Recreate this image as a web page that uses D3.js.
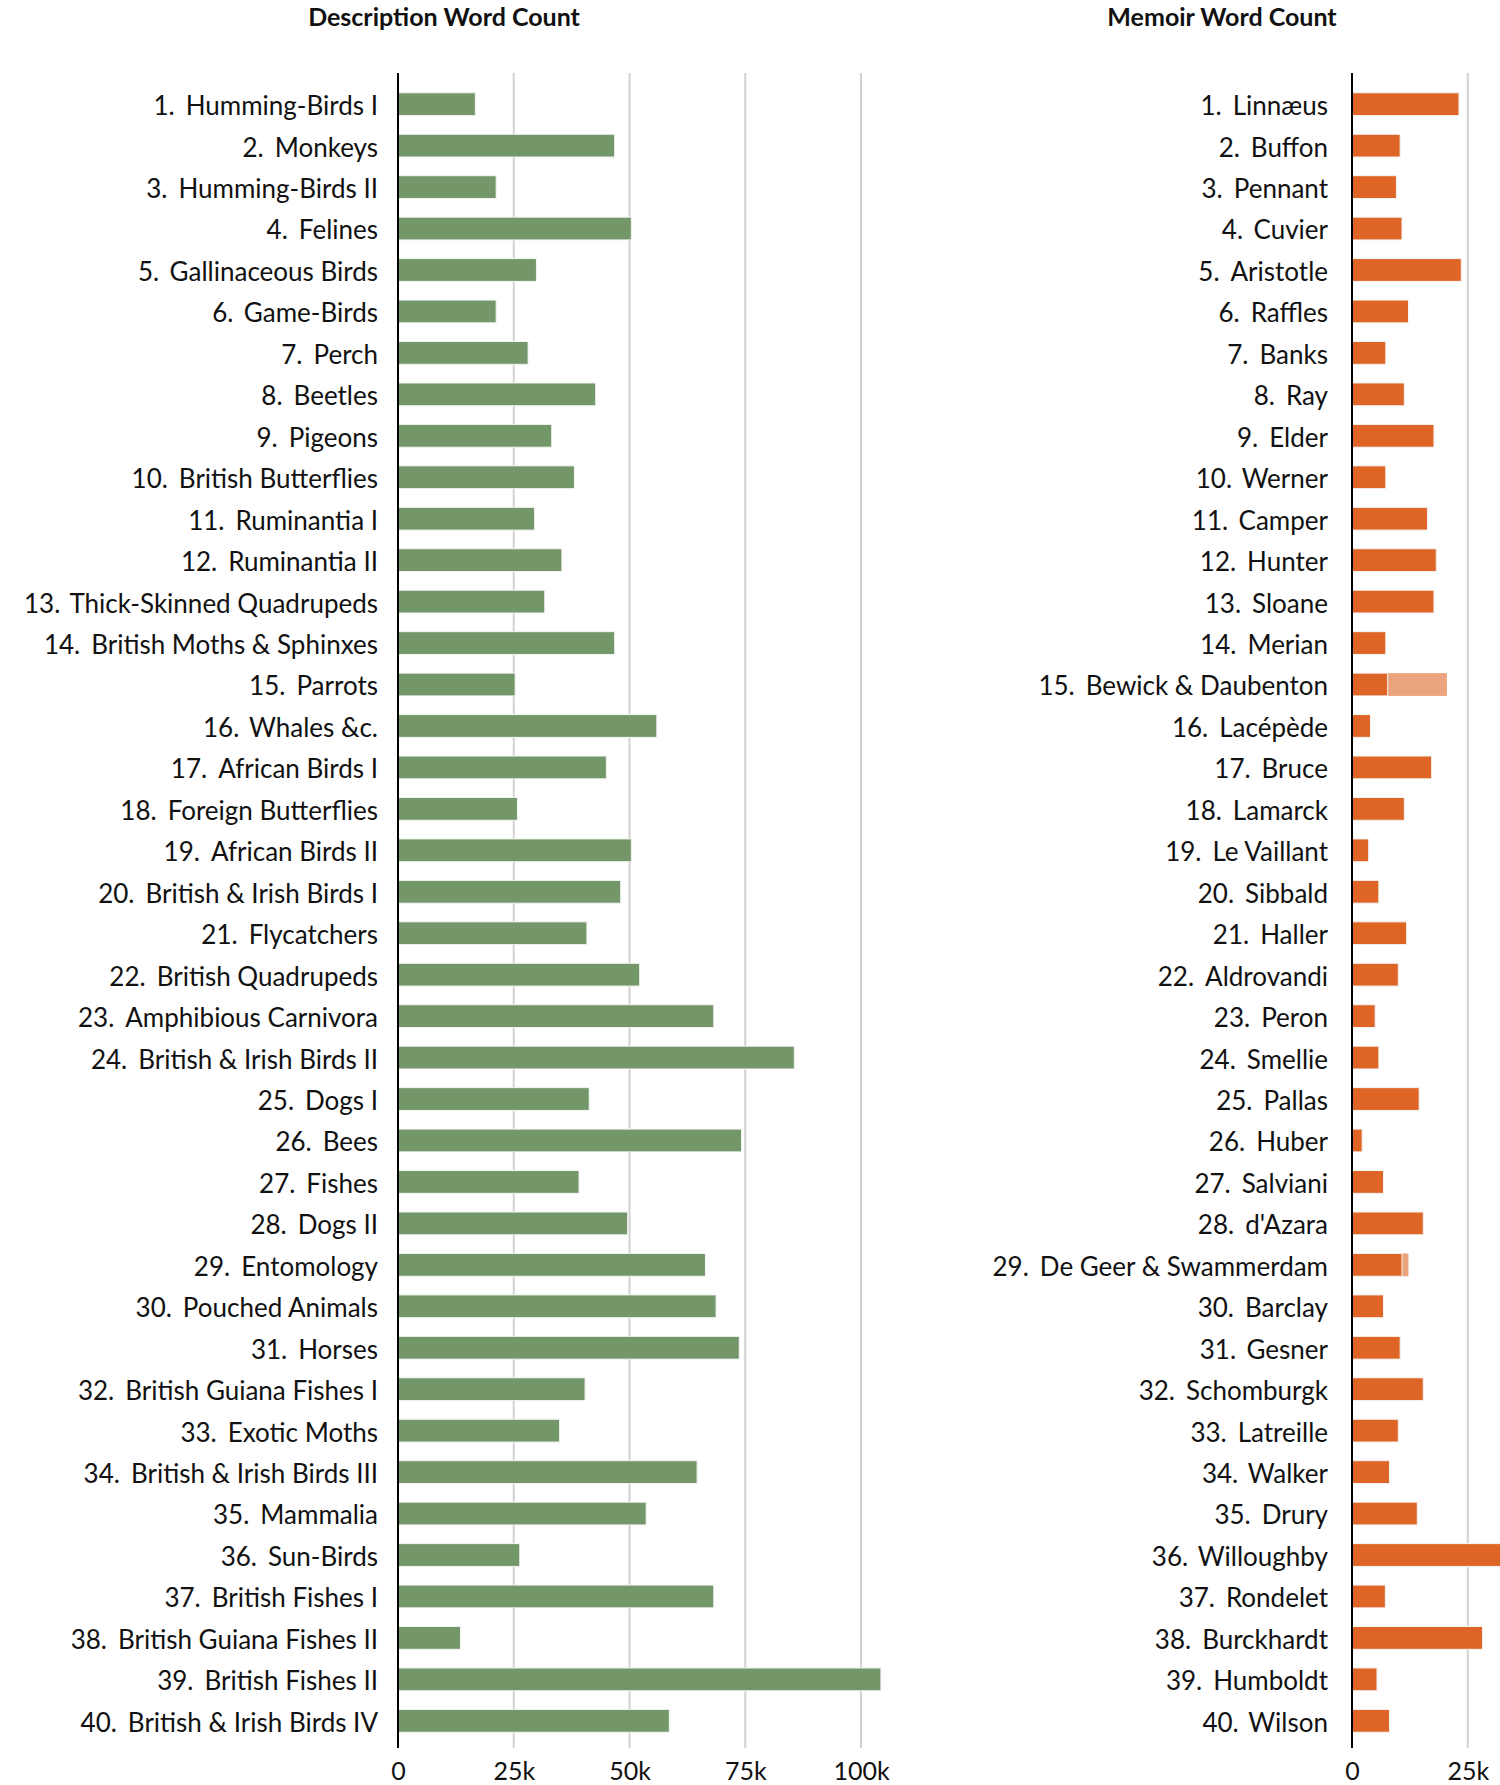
<!DOCTYPE html>
<html>
<head>
<meta charset="utf-8">
<script src="https://cdn.jsdelivr.net/npm/d3@7"></script>
<style>
  html, body { margin: 0; padding: 0; background: #fff; }
  svg { display: block; }
  text { font-family: Lato, "Open Sans", sans-serif; fill: #111; }
</style>
</head>
<body>
<svg id="chart" width="1500" height="1785"></svg>
<script>
const descNames = ["Humming-Birds I","Monkeys","Humming-Birds II","Felines","Gallinaceous Birds","Game-Birds","Perch","Beetles","Pigeons","British Butterflies","Ruminantia I","Ruminantia II","Thick-Skinned Quadrupeds","British Moths & Sphinxes","Parrots","Whales &c.","African Birds I","Foreign Butterflies","African Birds II","British & Irish Birds I","Flycatchers","British Quadrupeds","Amphibious Carnivora","British & Irish Birds II","Dogs I","Bees","Fishes","Dogs II","Entomology","Pouched Animals","Horses","British Guiana Fishes I","Exotic Moths","British & Irish Birds III","Mammalia","Sun-Birds","British Fishes I","British Guiana Fishes II","British Fishes II","British & Irish Birds IV"];
const descWords = [16700,46800,21200,50400,29900,21200,28100,42700,33200,38100,29500,35400,31700,46800,25300,55900,45000,25800,50400,48100,40800,52200,68200,85600,41300,74200,39100,49600,66400,68700,73700,40400,34900,64600,53600,26300,68200,13500,104300,58600];

const memoirNames = ["Linnæus","Buffon","Pennant","Cuvier","Aristotle","Raffles","Banks","Ray","Elder","Werner","Camper","Hunter","Sloane","Merian","Bewick & Daubenton","Lacépède","Bruce","Lamarck","Le Vaillant","Sibbald","Haller","Aldrovandi","Peron","Smellie","Pallas","Huber","Salviani","d'Azara","De Geer & Swammerdam","Barclay","Gesner","Schomburgk","Latreille","Walker","Drury","Willoughby","Rondelet","Burckhardt","Humboldt","Wilson"];
const memoirWords = [23100,10400,9600,10800,23600,12200,7300,11300,17700,7300,16300,18200,17700,7300,7700,4000,17200,11300,3600,5800,11800,10000,5000,5800,14500,2200,6800,15400,10800,6800,10400,15400,10000,8100,14100,35000,7200,28200,5400,8100];
// second (co-subject) memoir, stacked after the first
const memoirExtra = [0,0,0,0,0,0,0,0,0,0,0,0,0,0,12800,0,0,0,0,0,0,0,0,0,0,0,0,0,1400,0,0,0,0,0,0,0,0,0,0,0];

const descTicks = [0,25000,50000,75000,100000];
const memoirTicks = [0,25000];
const titles = ["Description Word Count","Memoir Word Count"];

const svg = d3.select("#chart");
const plotTop = 73, plotBottom = 1748;
const pxPerK = 4.63;
const fmt = d => d === 0 ? "0" : (d/1000) + "k";

function panel(cfg) {
  const g = svg.append("g");
  const idx = d3.range(cfg.names.length);
  const y = d3.scaleBand().domain(idx).range([plotTop + 3, plotBottom + 1]).paddingInner(0.45).paddingOuter(0.405);
  const x = d3.scaleLinear().domain([0, 100000]).range([cfg.x0, cfg.x0 + pxPerK * 100]);

  g.append("g").selectAll("line").data(cfg.ticks.filter(t => t > 0)).join("line")
    .attr("x1", d => x(d)).attr("x2", d => x(d))
    .attr("y1", plotTop).attr("y2", plotBottom)
    .attr("stroke", "#d2d2d2").attr("stroke-width", 2);

  g.append("g").selectAll("rect").data(idx.filter(i => cfg.extra && cfg.extra[i] > 0)).join("rect")
    .attr("x", i => x(cfg.values[i]))
    .attr("y", i => y(i))
    .attr("width", i => x(cfg.values[i] + cfg.extra[i]) - x(cfg.values[i]))
    .attr("height", y.bandwidth())
    .attr("fill", cfg.extraColor);

  g.append("g").selectAll("rect").data(idx).join("rect")
    .attr("x", x(0))
    .attr("y", i => y(i))
    .attr("width", i => x(cfg.values[i]) - x(0))
    .attr("height", y.bandwidth())
    .attr("fill", cfg.color)
    .attr("stroke", "#f4f4f4").attr("stroke-width", 1);

  g.append("line").attr("x1", x(0)).attr("x2", x(0)).attr("y1", plotTop).attr("y2", plotBottom)
    .attr("stroke", "#000").attr("stroke-width", 2);

  const lab = g.append("g").selectAll("text").data(idx).join("text")
    .attr("x", cfg.labelX)
    .attr("y", i => y(i) + y.bandwidth() / 2)
    .attr("dy", "0.42em")
    .attr("text-anchor", "end")
    .style("font-size", "26px");
  lab.append("tspan").text(i => (i + 1) + ".");
  lab.append("tspan").attr("dx", 11).text(i => cfg.names[i]);

  const ax = d3.axisBottom(x).tickValues(cfg.ticks).tickFormat(fmt).tickSize(0).tickPadding(0);
  const axg = g.append("g").attr("transform", `translate(0,${plotBottom + 14})`).call(ax);
  axg.select(".domain").remove();
  axg.selectAll("text").attr("fill", "#111").style("font-size", "25px")
    .style("font-family", "Lato, sans-serif");

  g.append("text").attr("x", cfg.titleX).attr("y", 26).attr("text-anchor", "middle")
    .style("font-size", "25px").style("font-weight", "700").text(cfg.title);
}

panel({ names: descNames, values: descWords, ticks: descTicks, x0: 398, labelX: 378,
        color: "#74976a", title: titles[0], titleX: 444 });
panel({ names: memoirNames, values: memoirWords, extra: memoirExtra, ticks: memoirTicks, x0: 1352, labelX: 1328,
        color: "#de6525", extraColor: "#eca47e", title: titles[1], titleX: 1222 });
</script>
</body>
</html>
